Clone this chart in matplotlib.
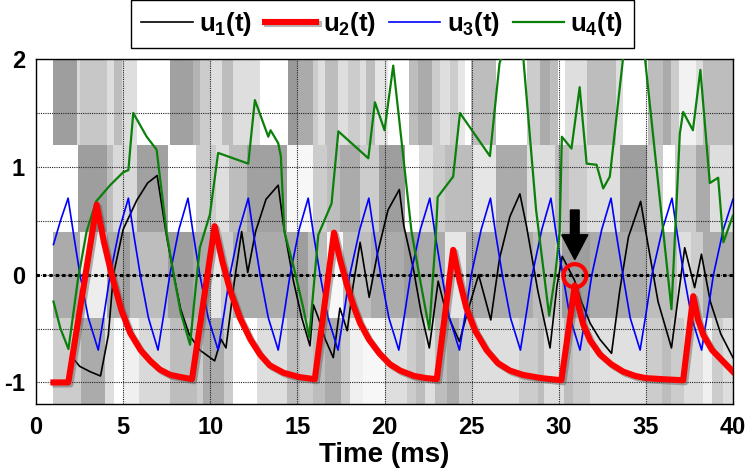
import matplotlib
matplotlib.use("Agg")
import matplotlib.pyplot as plt
import matplotlib.patheffects as pe
from matplotlib.patches import Ellipse

plt.rcParams["font.family"] = ["Liberation Sans", "DejaVu Sans"]
plt.rcParams["font.weight"] = "bold"
plt.rcParams["mathtext.fontset"] = "custom"
plt.rcParams["mathtext.rm"] = "Liberation Sans:bold"
plt.rcParams["mathtext.it"] = "Liberation Sans:bold"
plt.rcParams["mathtext.bf"] = "Liberation Sans:bold"

# ---- background raster: (start time, gray level) per band, bands run to T_END
T_END = 40.0
BAND_BOTTOMS = [1.2, 0.4, -0.4, -1.2]
BAND_HEIGHT = 0.8
band_top = [(1.0, 0.62), (2.33, 0.85), (2.53, 0.78), (4.05, 0.87), (4.5, 0.74), (4.92, 0.87),
            (5.77, 1.0), (7.7, 0.63), (9.0, 0.7), (9.4, 0.8), (10.0, 0.87), (10.65, 0.74),
            (11.3, 0.87), (12.85, 1.0), (14.48, 0.6), (14.96, 0.67), (15.9, 0.8), (16.2, 0.87),
            (16.6, 0.74), (17.35, 0.87), (17.9, 0.8), (18.6, 0.87), (18.95, 0.74), (19.45, 0.9),
            (20.2, 1.0), (21.4, 0.74), (21.9, 0.67), (22.75, 0.8), (23.2, 0.87), (23.75, 0.8),
            (24.2, 0.9), (24.6, 1.0), (24.95, 0.74), (26.4, 1.0), (28.2, 0.8), (28.9, 0.67),
            (29.5, 0.74), (29.95, 1.0), (30.35, 0.87), (31.6, 0.74), (33.3, 0.87), (33.7, 1.0),
            (35.1, 0.74), (36.0, 0.67), (36.45, 0.8), (36.9, 0.95), (37.9, 0.87), (38.3, 0.74)]
band_upper = [(1.0, 1.0), (2.4, 0.62), (4.05, 0.74), (4.4, 0.85), (5.78, 0.63), (7.6, 1.0),
              (9.2, 0.8), (10.3, 0.87), (11.1, 0.74), (12.1, 0.63), (14.4, 0.97), (15.9, 0.8),
              (16.7, 0.74), (17.45, 0.67), (18.6, 0.8), (19.7, 0.62), (21.2, 1.0), (22.0, 0.87),
              (22.8, 0.8), (23.5, 0.74), (25.0, 0.9), (26.4, 0.67), (28.2, 0.87), (29.8, 0.74),
              (30.6, 0.8), (31.6, 0.87), (33.5, 0.62), (35.05, 0.8), (36.0, 1.0), (36.7, 0.8),
              (37.9, 0.67), (38.7, 0.87)]
band_lower = [(1.0, 0.67), (2.5, 0.93), (4.05, 0.67), (5.0, 0.62), (5.4, 0.74), (7.6, 0.62),
              (9.0, 0.67), (10.0, 0.9), (10.6, 0.8), (11.3, 0.67), (14.96, 0.62), (15.6, 0.74),
              (16.7, 0.97), (17.6, 0.74), (19.2, 0.67), (21.1, 0.62), (22.0, 0.67), (23.5, 0.9),
              (24.7, 0.67), (28.5, 0.74), (29.8, 0.8), (30.2, 0.62), (31.8, 0.67), (35.05, 0.74),
              (36.8, 0.87), (37.6, 0.8), (38.3, 0.67)]
band_bottom = [(1.0, 0.8), (2.57, 0.67), (3.98, 0.87), (4.5, 1.0), (5.0, 0.94), (5.9, 0.85),
               (7.7, 0.74), (9.25, 0.8), (9.6, 0.67), (10.8, 0.8), (11.3, 1.0), (12.7, 0.87),
               (14.4, 0.74), (15.15, 0.8), (15.9, 0.74), (16.6, 0.67), (17.5, 0.8), (18.0, 0.94),
               (18.75, 0.97), (20.0, 0.87), (21.3, 0.8), (21.8, 0.74), (22.3, 0.87), (22.9, 0.74),
               (23.6, 0.67), (24.3, 0.8), (25.0, 0.87), (27.7, 0.8), (28.8, 0.74), (29.15, 0.87),
               (30.3, 0.74), (30.8, 0.8), (31.8, 0.88), (35.05, 0.8), (35.95, 0.74), (36.45, 0.8),
               (37.2, 0.87), (38.3, 0.94), (38.8, 0.8), (39.4, 0.87)]
BANDS = [band_top, band_upper, band_lower, band_bottom]

# ---- traces (t in ms, value)
u1 = [(1.0, -1.0), (1.85, -1.0), (2.05, -0.76), (2.5, -0.85), (3.1, -0.9), (3.7, -0.94),
      (4.15, -0.56), (4.44, 0.0), (5.0, 0.42), (5.78, 0.69), (6.4, 0.85), (6.95, 0.92),
      (7.5, 0.35), (7.9, 0.0), (8.3, -0.32), (8.8, -0.56), (9.4, -0.7), (10.25, -0.8),
      (10.62, -0.6), (10.9, -0.68), (11.35, -0.1), (11.8, 0.4), (12.15, 0.02), (12.6, 0.4),
      (13.2, 0.7), (13.9, 0.83), (14.2, 0.46), (14.76, -0.05), (15.25, -0.4), (15.72, -0.66),
      (15.92, -0.28), (16.2, -0.4), (16.6, -0.6), (17.06, -0.77), (17.44, -0.31), (17.86, -0.52),
      (18.2, -0.1), (18.6, 0.3), (19.12, -0.21), (19.6, 0.2), (20.2, 0.6), (20.85, 0.79),
      (21.1, 0.46), (21.65, 0.06), (22.1, -0.35), (22.57, -0.68), (23.08, -0.06), (23.5, -0.33),
      (24.3, -0.62), (24.85, -0.3), (25.4, 0.0), (26.1, -0.42), (26.6, 0.15), (27.2, 0.54),
      (27.77, 0.75), (28.15, 0.45), (28.8, -0.15), (29.5, -0.68), (29.9, -0.1), (30.2, 0.17),
      (30.9, -0.05), (31.3, -0.25), (31.8, -0.45), (32.36, -0.6), (33.03, -0.73), (33.5, -0.15),
      (34.0, 0.35), (34.7, 0.68), (35.1, 0.3), (35.7, -0.25), (36.47, -0.68), (37.23, 0.25),
      (37.8, -0.12), (38.19, 0.19), (38.7, -0.25), (39.3, -0.55), (40.0, -0.77)]
u2 = [(1.0, -1.0), (1.85, -1.0), (3.48, 0.65), (3.9, 0.3), (4.34, 0.0), (4.9, -0.33),
      (5.4, -0.54), (6.0, -0.7), (6.55, -0.8), (7.1, -0.88), (7.7, -0.93), (8.3, -0.95),
      (8.95, -0.97), (10.25, 0.45), (10.7, 0.12), (11.15, -0.15), (11.7, -0.4), (12.3, -0.6),
      (12.85, -0.74), (13.4, -0.84), (14.2, -0.91), (15.1, -0.95), (16.0, -0.97), (17.1, 0.39),
      (17.45, 0.14), (17.83, -0.09), (18.2, -0.28), (18.6, -0.45), (19.1, -0.6), (19.7, -0.73),
      (20.3, -0.83), (20.9, -0.89), (21.7, -0.94), (22.4, -0.96), (23.0, -0.97), (23.94, 0.23),
      (24.3, -0.05), (24.7, -0.31), (25.2, -0.52), (25.86, -0.7), (26.5, -0.82), (27.2, -0.89),
      (27.95, -0.93), (29.0, -0.96), (30.15, -0.98), (30.92, -0.1), (31.15, -0.3), (31.4, -0.46),
      (31.8, -0.61), (32.36, -0.74), (33.0, -0.83), (33.7, -0.9), (34.4, -0.94), (35.0, -0.96),
      (36.0, -0.97), (37.14, -0.98), (37.72, -0.2), (38.0, -0.42), (38.3, -0.56), (38.8, -0.7),
      (39.4, -0.8), (40.0, -0.9)]
u3 = [(1.0, 0.28), (1.4, 0.5), (1.84, 0.71), (2.15, 0.38), (2.52, 0.0), (3.0, -0.4), (3.57, -0.7),
      (3.92, -0.35), (4.25, 0.0), (4.78, 0.42), (5.3, 0.71), (5.6, 0.38), (5.98, 0.0), (6.45, -0.4),
      (7.0, -0.7), (7.35, -0.35), (7.68, 0.0), (8.2, 0.42), (8.72, 0.71), (9.02, 0.38), (9.4, 0.0),
      (9.88, -0.4), (10.45, -0.7), (10.8, -0.35), (11.13, 0.0), (11.66, 0.42), (12.18, 0.71),
      (12.48, 0.38), (12.86, 0.0), (13.33, -0.4), (13.9, -0.7), (14.25, -0.35), (14.58, 0.0),
      (15.1, 0.42), (15.62, 0.71), (15.92, 0.38), (16.3, 0.0), (16.76, -0.4), (17.33, -0.7),
      (17.68, -0.35), (18.01, 0.0), (18.58, 0.42), (19.1, 0.71), (19.4, 0.38), (19.78, 0.0),
      (20.25, -0.4), (20.82, -0.7), (21.17, -0.35), (21.5, 0.0), (22.06, 0.42), (22.6, 0.71),
      (22.9, 0.38), (23.28, 0.0), (23.73, -0.4), (24.3, -0.7), (24.65, -0.35), (24.98, 0.0),
      (25.55, 0.42), (26.08, 0.71), (26.38, 0.38), (26.76, 0.0), (27.23, -0.4), (27.8, -0.7),
      (28.15, -0.35), (28.48, 0.0), (29.03, 0.42), (29.55, 0.71), (29.85, 0.38), (30.23, 0.0),
      (30.65, -0.4), (31.22, -0.7), (31.57, -0.35), (31.9, 0.0), (32.47, 0.42), (33.0, 0.71),
      (33.3, 0.38), (33.68, 0.0), (34.1, -0.4), (34.67, -0.7), (35.02, -0.35), (35.35, 0.0),
      (35.95, 0.42), (36.5, 0.71), (36.8, 0.38), (37.18, 0.0), (37.63, -0.4), (38.2, -0.7),
      (38.55, -0.35), (38.88, 0.0), (39.45, 0.42), (40.0, 0.7)]
u4 = [(1.0, -0.25), (1.4, -0.5), (1.86, -0.69), (2.4, -0.05), (2.9, 0.4), (3.45, 0.68),
      (4.25, 0.83), (5.0, 0.95), (5.3, 0.97), (5.58, 1.5), (6.35, 1.28), (6.92, 1.16),
      (7.5, 0.38), (7.9, 0.0), (8.3, -0.35), (8.84, -0.65), (9.05, -0.3), (9.4, 0.25),
      (9.98, 0.56), (10.45, 1.13), (12.18, 1.03), (12.56, 1.62), (13.33, 1.28), (13.46, 1.34),
      (13.9, 1.22), (14.05, 1.1), (14.25, 0.4), (14.76, 0.09), (15.34, -0.31), (15.68, -0.58),
      (16.2, 0.37), (16.96, 0.66), (17.35, 1.33), (19.07, 1.08), (19.45, 1.6), (20.0, 1.34),
      (20.5, 1.94), (21.55, 0.4), (22.1, -0.1), (22.57, -0.51), (22.95, 0.37), (23.05, 0.72),
      (23.94, 0.91), (24.33, 1.5), (26.05, 1.1), (26.6, 1.96), (27.3, 2.35), (27.96, 2.02),
      (28.7, 0.6), (29.45, -0.38), (29.8, 0.0), (30.05, 0.4), (30.18, 1.28), (30.73, 1.17),
      (31.2, 1.74), (31.6, 1.03), (32.17, 1.02), (32.55, 0.8), (32.93, 0.91), (33.7, 2.02),
      (34.3, 2.35), (34.94, 2.02), (36.47, -0.32), (36.95, 1.31), (37.14, 1.51), (37.7, 1.34),
      (38.13, 1.9), (38.67, 0.85), (39.15, 0.9), (39.45, 0.3), (40.0, 0.55)]

SERIES = [("u$_1$(t)", u1, "#000000", 1.2),
          ("u$_2$(t)", u2, "#ff0000", 4.4),
          ("u$_3$(t)", u3, "#0000ff", 1.2),
          ("u$_4$(t)", u4, "#0a800a", 1.6)]

MARK_T, MARK_Y = 30.92, -0.01      # circled event
ARROW_TOP, ARROW_TIP = 0.60, 0.14

fig = plt.figure(figsize=(7.51, 4.75), dpi=100)
ax = fig.add_axes([0.048, 0.1495, 0.928, 0.726])

for bottom, band in zip(BAND_BOTTOMS, BANDS):
    starts = [s for s, _ in band]
    ends = starts[1:] + [T_END]
    widths = [e - s for s, e in zip(starts, ends)]
    grays = [str(g) for _, g in band]
    ax.bar(starts, BAND_HEIGHT, width=widths, bottom=bottom, align="edge",
           color=grays, linewidth=0, zorder=0.5)

ax.axhline(0, color="black", lw=2.2, ls=(0, (1.1, 1.0)), zorder=1.8)

for label, pts, col, lw in SERIES:
    t, v = zip(*pts)
    if col == "#ff0000":
        ax.plot(t, v, color=col, lw=lw, label=label, solid_joinstyle="round", zorder=4,
                path_effects=[pe.SimpleLineShadow(offset=(1.5, -1.5), shadow_color="0.35", alpha=0.45),
                              pe.Normal()])
    else:
        ax.plot(t, v, color=col, lw=lw, label=label, zorder=3)

ax.add_patch(Ellipse((MARK_T, MARK_Y), width=1.32, height=0.215, fill=False,
                     ec="#ff0000", lw=3, zorder=5))
ax.arrow(MARK_T, ARROW_TOP, 0, ARROW_TIP - ARROW_TOP, width=0.5, head_width=1.5,
         head_length=0.23, length_includes_head=True, color="black", zorder=6)

ax.set_xlim(0, 40)
ax.set_ylim(-1.2, 2)
ax.set_xticks(range(0, 41, 5))
ax.set_yticks([-1, 0, 1, 2])
ax.set_yticklabels(["-1", "0", "1", "2"])
ax.set_yticks([-0.5, 0.5, 1.5], minor=True)
ax.grid(which="both", color="#222222", lw=0.8, ls=(0, (1, 1)))
ax.tick_params(which="both", length=0)
ax.tick_params(axis="x", labelsize=17, pad=9)
ax.tick_params(axis="y", labelsize=17, pad=8)
for lab in ax.get_xticklabels() + ax.get_yticklabels():
    lab.set_fontweight("bold")
for sp in ax.spines.values():
    sp.set_linewidth(1.0)
ax.set_xlabel("Time (ms)", fontsize=20, fontweight="bold", labelpad=2)

leg = ax.legend(loc="lower center", bbox_to_anchor=(0.497, 1.032), ncol=4, fontsize=18.5,
                frameon=True, fancybox=False, edgecolor="black", framealpha=1,
                borderaxespad=0, handlelength=2.0, handletextpad=0.25, columnspacing=0.5,
                borderpad=0.4)
leg.get_frame().set_linewidth(1.0)

fig.savefig("out.png", dpi=100)
